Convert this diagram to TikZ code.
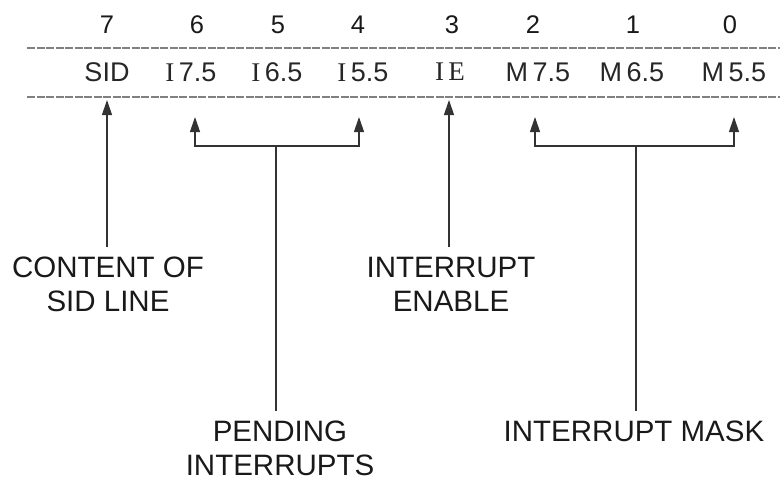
\documentclass[tikz,border=0pt]{standalone}
\usepackage{fontspec}
\setmainfont{Liberation Sans}
\newfontfamily\serifI{Liberation Serif}
\usetikzlibrary{arrows.meta}
\begin{document}
\begin{tikzpicture}[x=1pt,y=-1pt,
  bitnum/.style={font=\fontsize{25.5}{30}\selectfont, text=black!90, inner sep=0},
  cell/.style={font=\fontsize{27}{32}\selectfont, text=black!85, inner sep=0},
  lbl/.style={font=\fontsize{29.5}{34}\selectfont, text=black!90, align=center, inner sep=0, outer ysep=10pt, anchor=north},
  sep/.style={black!50, line width=2pt, dash pattern=on 8pt off 1.5pt},
  conn/.style={black!80, line width=1.2pt},
  arr/.style={conn, -{Triangle[width=10pt,length=15pt]}}]
\useasboundingbox (0,0) rectangle (780,482);
% bit numbers
\node[bitnum] (b7) at (107,25) {7};
\node[bitnum] (b6) at (197,25) {6};
\node[bitnum] (b5) at (278,25) {5};
\node[bitnum] (b4) at (358,25) {4};
\node[bitnum] (b3) at (452,25) {3};
\node[bitnum] (b2) at (533,25) {2};
\node[bitnum] (b1) at (633,25) {1};
\node[bitnum] (b0) at (730,25) {0};
% separator lines
\coordinate (s1l) at (27,48); \coordinate (s1r) at (780,48);
\coordinate (s2l) at (27,97); \coordinate (s2r) at (780,97);
\draw[sep] (s1l) -- (s1r);
\draw[sep] (s2l) -- (s2r);
% register cells
\node[cell] (c7) at (107,72) {SID};
\node[cell] (c6) at (191,72) {{\serifI I}\,7.5};
\node[cell] (c5) at (277,72) {{\serifI I}\,6.5};
\node[cell] (c4) at (363,72) {{\serifI I}\,5.5};
\node[cell] (c3) at (450,72) {{\serifI I\,E}};
\node[cell] (c2) at (538,72) {M\,7.5};
\node[cell] (c1) at (632,72) {M\,6.5};
\node[cell] (c0) at (734,72) {M\,5.5};
% arrow tips
\coordinate (t7) at (107,100);
\coordinate (t6) at (195,117);
\coordinate (t4) at (359,117);
\coordinate (t3) at (449,100);
\coordinate (t2) at (535,117);
\coordinate (t0) at (734,117);
\coordinate (pm) at (276,146);
\coordinate (mm) at (636,146);
% labels
\node[lbl] (lsid) at (108,247) {CONTENT OF\\SID LINE};
\node[lbl] (lie) at (451,247) {INTERRUPT\\ENABLE};
\node[lbl] (lpend) at (280,411) {PENDING\\INTERRUPTS};
\node[lbl] (lmask) at (634,411) {INTERRUPT MASK};
% connectors
\draw[arr] (lsid.north -| t7) -- (t7);
\draw[arr] (lie.north -| t3) -- (t3);
\draw[conn] (lpend.north -| pm) -- (pm);
\draw[arr] (pm) -| (t6);
\draw[arr] (pm) -| (t4);
\draw[conn] (lmask.north -| mm) -- (mm);
\draw[arr] (mm) -| (t2);
\draw[arr] (mm) -| (t0);
\end{tikzpicture}
\end{document}
